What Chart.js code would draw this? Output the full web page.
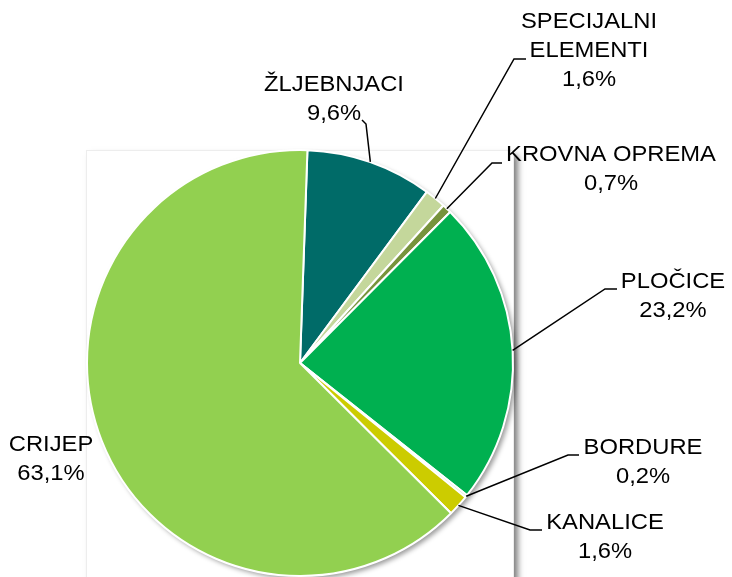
<!DOCTYPE html>
<html>
<head>
<meta charset="utf-8">
<script src="https://cdn.jsdelivr.net/npm/chart.js@4.4.0/dist/chart.umd.min.js"></script>
<style>
  body { margin: 0; background: #ffffff; }
  canvas { display: block; }
</style>
</head>
<body>
<canvas id="pita" width="732" height="577"></canvas>
<script>
// PODACI
const kategorije = ["ŽLJEBNJACI", "SPECIJALNI ELEMENTI", "KROVNA OPREMA", "PLOČICE", "BORDURE", "KANALICE", "CRIJEP"];
const udjeli = [9.6, 1.6, 0.7, 23.2, 0.2, 1.6, 63.1];
const tekstUdjela = ["9,6%", "1,6%", "0,7%", "23,2%", "0,2%", "1,6%", "63,1%"];
const boje = ["#006B68", "#C4D79B", "#77933C", "#00B050", "#D8E4BC", "#CCCC00", "#92D050"];

// RASPORED NATPISA (redovi teksta, središte x, y prvog reda, lom linije)
const natpisi = [
  { redovi: ["ŽLJEBNJACI"], x: 334, y: 85, lom: [366, 124], kraj: [362, 120] },
  { redovi: ["SPECIJALNI", "ELEMENTI"], x: 589, y: 22, lom: [514, 59], kraj: [526, 59] },
  { redovi: ["KROVNA OPREMA"], x: 611, y: 155, lom: [492, 163], kraj: [502, 163] },
  { redovi: ["PLOČICE"], x: 673, y: 282, lom: [605, 289], kraj: [617, 289] },
  { redovi: ["BORDURE"], x: 643, y: 448, lom: [568, 455], kraj: [579, 455] },
  { redovi: ["KANALICE"], x: 605, y: 523, lom: [530, 530], kraj: [542, 530] },
  { redovi: ["CRIJEP"], x: 51, y: 445, lom: null, kraj: null }
];
const razmakRedova = 29;
const sirenje = 1.08;

// okvir i sjena ispod pite
const pozadina = {
  id: "pozadina",
  beforeDatasetsDraw(chart) {
    const arc = chart.getDatasetMeta(0).data[0];
    if (!arc) return;
    const { x, y, outerRadius: r } = arc.getProps(["x", "y", "outerRadius"], true);
    const ctx = chart.ctx;
    ctx.save();
    ctx.shadowColor = "rgba(0,0,0,0.5)";
    ctx.shadowBlur = 6;
    ctx.shadowOffsetX = 4;
    ctx.shadowOffsetY = 4;
    ctx.fillStyle = "#ffffff";
    ctx.fillRect(x - r, y - r + 1, 2 * r + 1, chart.height);
    ctx.restore();
    ctx.save();
    ctx.strokeStyle = "#ededed";
    ctx.lineWidth = 1;
    ctx.strokeRect(x - r - 0.5, y - r + 0.5, 2 * r + 1, chart.height);
    ctx.restore();
    ctx.save();
    ctx.shadowColor = "rgba(0,0,0,0.4)";
    ctx.shadowBlur = 5;
    ctx.shadowOffsetX = 3;
    ctx.shadowOffsetY = 3;
    ctx.fillStyle = "#ffffff";
    ctx.beginPath();
    ctx.arc(x, y, r, 0, Math.PI * 2);
    ctx.fill();
    ctx.restore();
  }
};

// natpisi s linijama
const oznake = {
  id: "oznake",
  afterDatasetsDraw(chart) {
    const ctx = chart.ctx;
    const meta = chart.getDatasetMeta(0);
    ctx.save();
    ctx.strokeStyle = "#000000";
    ctx.lineWidth = 1.5;
    natpisi.forEach((n, i) => {
      const redovi = n.redovi.concat([tekstUdjela[i]]);
      redovi.forEach((t, k) => {
        ctx.save();
        ctx.translate(n.x, n.y + k * razmakRedova);
        ctx.scale(sirenje, 1);
        ctx.font = "22px 'Liberation Sans', Arial, sans-serif";
        ctx.fillStyle = "#000000";
        ctx.textAlign = "center";
        ctx.textBaseline = "middle";
        ctx.fillText(t, 0, 0);
        ctx.restore();
      });
      if (n.lom) {
        const a = meta.data[i].getProps(["x", "y", "startAngle", "endAngle", "outerRadius"], true);
        const sredina = (a.startAngle + a.endAngle) / 2;
        const px = a.x + Math.cos(sredina) * a.outerRadius;
        const py = a.y + Math.sin(sredina) * a.outerRadius;
        ctx.beginPath();
        ctx.moveTo(px, py);
        ctx.lineTo(n.lom[0], n.lom[1]);
        ctx.lineTo(n.kraj[0], n.kraj[1]);
        ctx.stroke();
      }
    });
    ctx.restore();
  }
};

const config = {
  type: "pie",
  data: {
    labels: kategorije,
    datasets: [{
      data: udjeli,
      backgroundColor: boje,
      borderColor: "#ffffff",
      borderWidth: 2
    }]
  },
  options: {
    responsive: false,
    animation: false,
    rotation: 2,
    layout: { padding: { left: 86, right: 218, top: 149, bottom: 0 } },
    plugins: {
      legend: { display: false },
      tooltip: { enabled: false }
    }
  },
  plugins: [pozadina, oznake]
};

new Chart(document.getElementById("pita"), config);
</script>
</body>
</html>
